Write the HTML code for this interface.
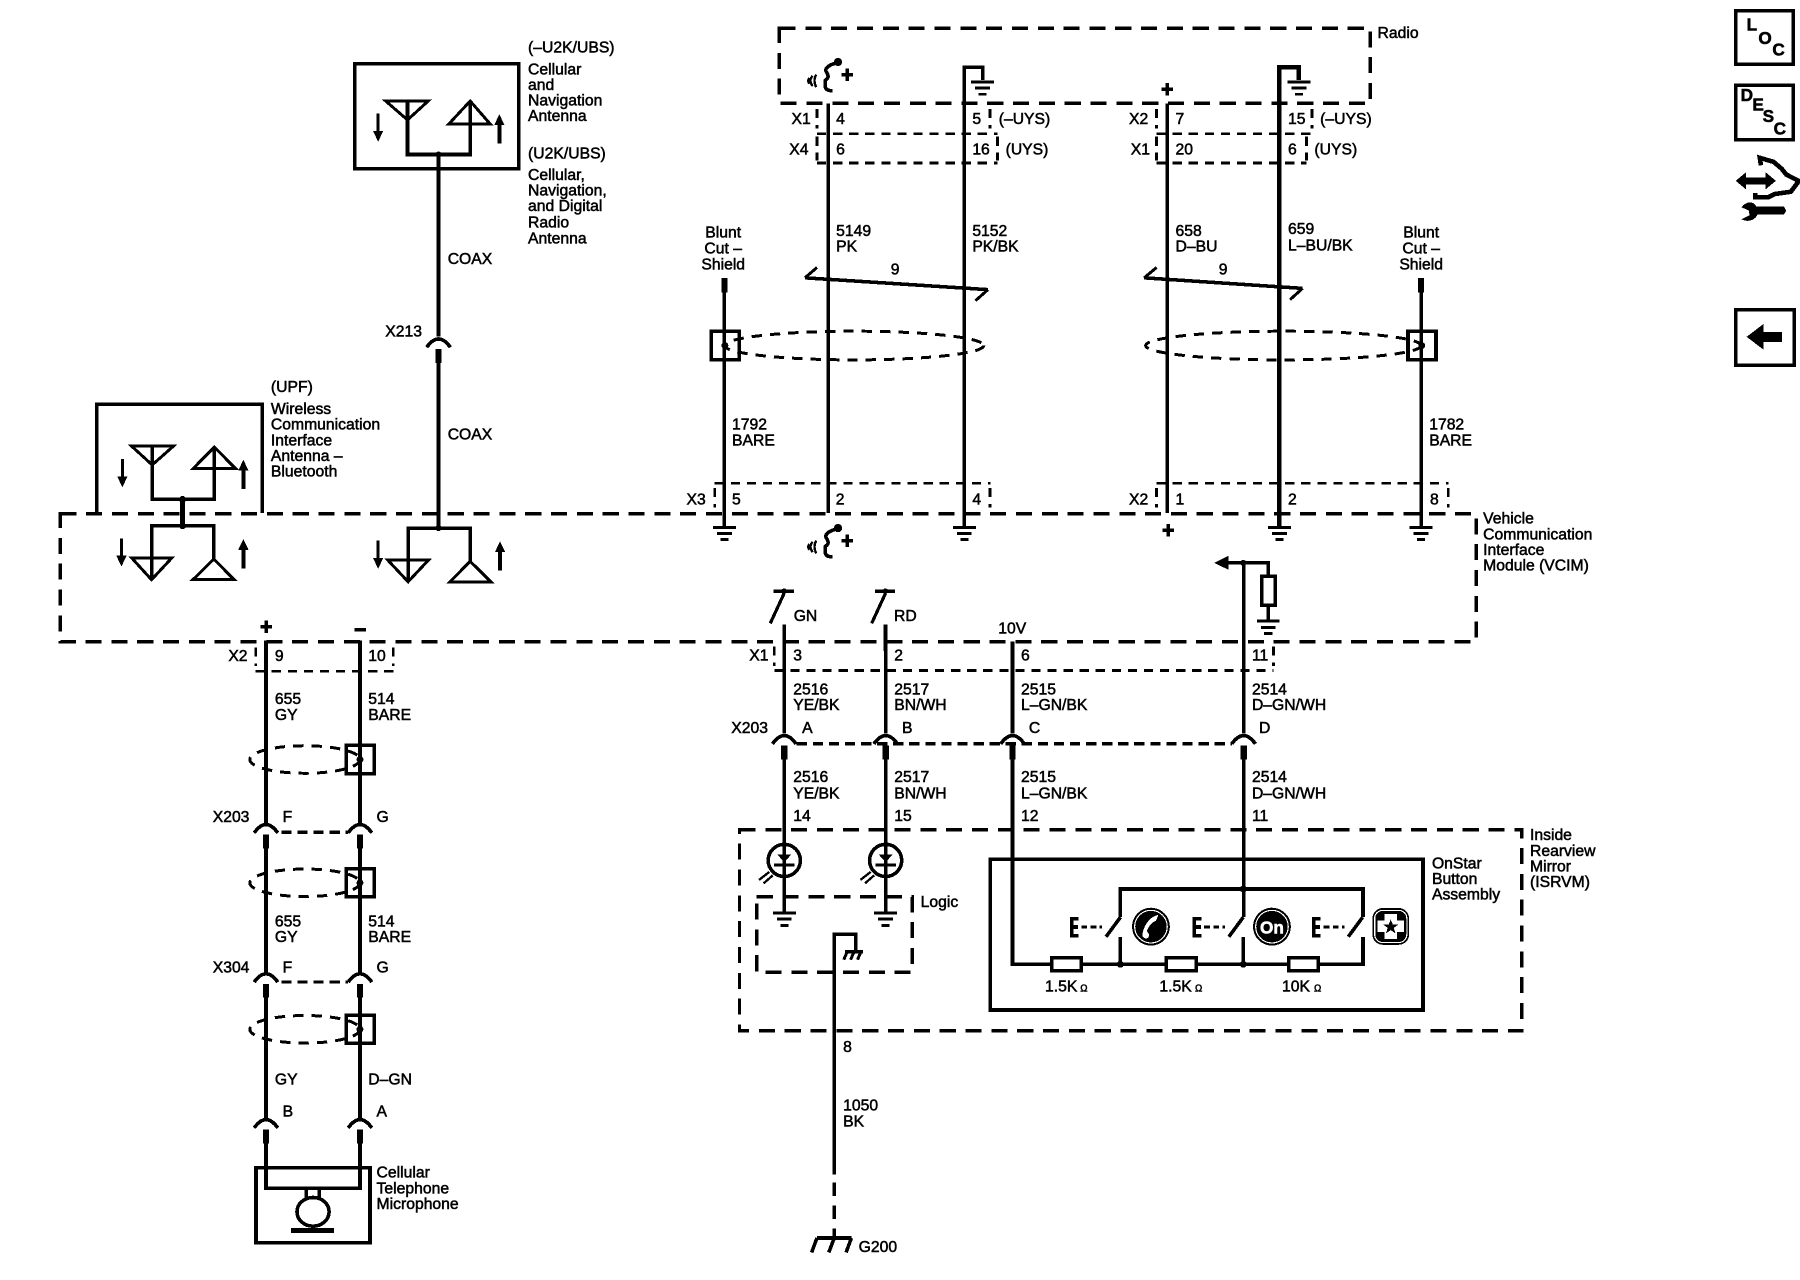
<!DOCTYPE html>
<html><head><meta charset="utf-8"><title>Wiring diagram</title>
<style>
html,body{margin:0;padding:0;background:#fff}
svg{display:block}
text{font-family:"Liberation Sans",sans-serif;font-size:13.7px;fill:#000;stroke:#000;stroke-width:.45px}
.s{fill:none;stroke:#000;stroke-width:3.1}
.t{fill:none;stroke:#000;stroke-width:2.6}
.d{fill:none;stroke:#000;stroke-width:3;stroke-dasharray:14 8.5}
.m{fill:none;stroke:#000;stroke-width:2.4;stroke-dasharray:8 6}
.e{fill:none;stroke:#000;stroke-width:2.6;stroke-dasharray:9 7}
.f{fill:#000;stroke:none}
.b{font-weight:bold;font-size:15px}
</style></head><body>
<svg xmlns="http://www.w3.org/2000/svg" width="1800" height="1280" viewBox="0 0 1568 1115" preserveAspectRatio="none" shape-rendering="crispEdges">
<defs>
<g id="gnd"><path class="f" d="M-10 0H10V2.6H-10ZM-6.5 5.4H6.5V8H-6.5ZM-3.5 10.8H3.5V13.4H-3.5Z"/></g>
<g id="con"><path class="s" d="M-10.3 9.5Q0 -5 10.3 9.5"/><rect class="f" x="-2.8" y="11" width="5.6" height="12"/></g>
<g id="ua"><path class="f" d="M0 -12.5L4.5 -3H1.8V13H-1.8V-3H-4.5Z"/></g>
<g id="da"><path class="f" d="M0 12.5L4.5 3H1.4V-12H-1.4V3H-4.5Z"/></g>
<g id="spk"><path class="s" d="M6 -10C-1 -8 -4 -5 -2 -2C0 1 0 3 -3 5L-3 11C-2 14 1 14 3 14"/><circle class="f" cx="8" cy="-11" r="3.6"/><path class="t" d="M-11 0Q-14 5 -11 11M-14 1Q-18 5 -14 10M-17 3Q-19 5 -17 8" style="stroke-width:2"/><path class="f" d="M11 -1.5H14.5V-5.5H17.5V-1.5H21V1.5H17.5V5.5H14.5V1.5H11Z"/></g>
<g id="plus"><path class="f" d="M-5 -1.5H-1.5V-5.5H1.5V-1.5H5V1.5H1.5V5.5H-1.5V1.5H-5Z"/></g>
<g id="led"><circle class="s" r="14"/><path class="f" d="M-6 -5H6L0 1.5Z"/><rect class="f" x="-9" y="2.5" width="18" height="2.6"/><path class="t" d="M-22 17L-13 10M-18 20L-10 13" style="stroke-width:2"/></g>
<g id="sw"><path class="s" d="M0 0L-12.5 17"/><rect class="f" x="-44" y="0.5" width="3" height="16"/><path class="s" d="M-44 1.5H-36.5M-44 8.5H-37M-44 16H-36.5"/><path class="t" d="M-34 8.5H-16" stroke-dasharray="5 3"/></g>
<g id="sh"><rect class="s" x="-12" y="-12.3" width="24.4" height="24.6"/><circle class="f" r="3"/></g>
<g id="rs"><rect x="-13" y="-5.6" width="26" height="11.2" fill="#fff" stroke="#000" stroke-width="3"/></g>
<g id="gsw"><path class="s" d="M0 4V27"/><path class="t" d="M-12 3L0 -23M-9 -25H8.5" style="stroke-width:2.8"/><circle class="f" cy="-25" r="2.4"/></g>
</defs>
<rect width="1568" height="1115" fill="#fff"/>

<!-- main dashed enclosures -->
<rect class="d" x="52.5" y="447.5" width="1233.5" height="111.5"/>
<rect class="d" x="679" y="24.6" width="514.8" height="65.4"/>
<rect class="d" x="644.2" y="722.8" width="681.6" height="175.2"/>
<rect class="d" x="659.2" y="781.2" width="135.4" height="65.8"/>

<!-- top antenna -->
<rect class="s" x="309" y="55.7" width="143" height="91.3"/>
<path class="t" d="M336 88H373L355 104.5Z"/>
<path class="s" d="M355 88V134.6H409.6V88"/>
<path class="t" d="M391 108H427L409.6 88Z"/>
<use href="#da" x="329.4" y="111"/><use href="#ua" x="435" y="112"/>
<path class="s" d="M382 134V293"/><use href="#con" x="382" y="293"/>
<path class="s" d="M382 315V460"/><circle class="f" cx="382" cy="134.6" r="2.6"/>
<text x="460" y="45.8">(–U2K/UBS)</text>
<text x="460" y="65">Cellular</text><text x="460" y="78.5">and</text><text x="460" y="91.7">Navigation</text><text x="460" y="105.6">Antenna</text>
<text x="460" y="138">(U2K/UBS)</text>
<text x="460" y="157">Cellular,</text><text x="460" y="170.5">Navigation,</text><text x="460" y="184">and Digital</text><text x="460" y="198">Radio</text><text x="460" y="212">Antenna</text>
<text x="390" y="230">COAX</text><text x="390" y="383">COAX</text><text x="335.6" y="293">X213</text>

<!-- bluetooth antenna -->
<path class="s" d="M84.4 447V352H228.3V447"/>
<path class="t" d="M114.7 388.7H151L132.6 405Z"/>
<path class="s" d="M132.6 389V435H186.7V389"/>
<path class="t" d="M168.4 408H205L186.7 389.4Z"/>
<use href="#da" x="106.6" y="412"/><use href="#ua" x="212" y="413"/>
<path class="s" d="M159 435V458" style="stroke-width:4"/><circle class="f" cx="159" cy="435" r="3"/><circle class="f" cx="159" cy="458" r="3"/>
<path class="s" d="M132 505V458H186.3V488"/>
<path class="t" d="M114.7 486H149.7L132 505Z"/>
<path class="t" d="M168 505H204L186.3 487Z"/>
<use href="#da" x="105.8" y="481"/><use href="#ua" x="212" y="482"/>
<text x="236" y="341.5">(UPF)</text>
<text x="236" y="360.5">Wireless</text><text x="236" y="374">Communication</text><text x="236" y="388">Interface</text><text x="236" y="401.5">Antenna –</text><text x="236" y="415">Bluetooth</text>

<!-- coax lower antenna -->
<path class="s" d="M355.5 507V460H409.6V489"/><circle class="f" cx="382" cy="460" r="2.6"/>
<path class="t" d="M337.6 487.7H373.4L355.5 506.8Z"/>
<path class="t" d="M391.7 507H427.8L409.6 489Z"/>
<use href="#da" x="329.4" y="483"/><use href="#ua" x="435.6" y="484"/>

<!-- radio wires -->
<path class="s" d="M721.4 90V447"/>
<path class="s" d="M856 69.7V58.7H840V458"/>
<path class="s" d="M1016.8 90V447"/>
<path class="s" d="M1131.5 69.7V58.7H1114.5V458" style="stroke-width:4"/>
<path class="s" d="M631 242V458"/><path class="s" d="M1238 242V458"/>
<rect class="f" x="628.4" y="242" width="5.2" height="13"/><rect class="f" x="1235.4" y="242" width="5.2" height="13"/>
<use href="#gnd" x="856" y="70"/><use href="#gnd" x="1131.5" y="70"/>
<use href="#gnd" x="631" y="458"/><use href="#gnd" x="840" y="458"/><use href="#gnd" x="1114.5" y="458"/><use href="#gnd" x="1238" y="458"/>
<use href="#spk" x="722" y="65"/><use href="#spk" x="722" y="471"/>
<use href="#plus" x="1016.8" y="77.7"/><use href="#plus" x="1017.6" y="462"/>
<text x="1200" y="33">Radio</text>

<!-- connector dashed tops -->
<path class="m" d="M711.7 95V112M862.5 95V112M711.7 119V140M869 119V140M711.7 116.6H869M711.7 142H869"/>
<path class="m" d="M1007.5 95V112M1143 95V112M1007.5 119V140M1138 119V140M1007.5 116.6H1143M1007.5 142H1138"/>
<path class="m" d="M622.6 425V442M862.5 425V442M622.6 421H863M1007.5 425V442M1261.6 425V442M1007.5 421H1261.6"/>
<text x="689.5" y="108">X1</text><text x="728.4" y="108">4</text><text x="847" y="108">5</text><text x="870" y="108">(–UYS)</text>
<text x="687.5" y="134.6">X4</text><text x="728.4" y="134.6">6</text><text x="847" y="134.6">16</text><text x="876" y="134.6">(UYS)</text>
<text x="983.5" y="108">X2</text><text x="1024" y="108">7</text><text x="1122" y="108">15</text><text x="1150" y="108">(–UYS)</text>
<text x="985" y="134.6">X1</text><text x="1024" y="134.6">20</text><text x="1122" y="134.6">6</text><text x="1145" y="134.6">(UYS)</text>
<text x="728.4" y="205.4">5149</text><text x="728.4" y="219">PK</text>
<text x="847" y="205.4">5152</text><text x="847" y="219">PK/BK</text>
<text x="1024" y="205.4">658</text><text x="1024" y="219">D–BU</text>
<text x="1122" y="204">659</text><text x="1122" y="218">L–BU/BK</text>

<!-- twists -->
<path class="s" d="M701.2 242L860.6 252.3"/><path class="t" d="M701.2 242L711.7 233M860.6 252.3L849.7 262"/>
<path class="s" d="M996.7 242L1134.7 251.2"/><path class="t" d="M996.7 242L1007.5 233M1134.7 251.2L1123.8 261"/>
<text x="776" y="239">9</text><text x="1061.7" y="239">9</text>

<!-- shields top -->
<ellipse class="e" cx="744" cy="301" rx="113" ry="12.5"/>
<ellipse class="e" cx="1118" cy="301" rx="120" ry="12.5"/>
<use href="#sh" x="631.5" y="301"/><use href="#sh" x="1238.5" y="301"/>
<g text-anchor="middle"><text x="630" y="207">Blunt</text><text x="630" y="221">Cut –</text><text x="630" y="234.7">Shield</text>
<text x="1238" y="207">Blunt</text><text x="1238" y="221">Cut –</text><text x="1238" y="234.7">Shield</text></g>
<text x="637.7" y="374">1792</text><text x="637.7" y="388">BARE</text>
<text x="1245" y="374">1782</text><text x="1245" y="388">BARE</text>
<text x="598" y="439.5">X3</text><text x="637.7" y="439.5">5</text><text x="728" y="439.5">2</text><text x="847" y="439.5">4</text>
<text x="983.5" y="439.5">X2</text><text x="1024" y="439.5">1</text><text x="1122" y="439.5">2</text><text x="1245.7" y="439.5">8</text>
<text x="1292" y="456">Vehicle</text><text x="1292" y="470">Communication</text><text x="1292" y="483.5">Interface</text><text x="1292" y="497">Module (VCIM)</text>

<!-- left microphone wiring -->
<use href="#plus" x="232" y="546"/><rect class="f" x="309" y="547" width="10" height="3"/>
<path class="m" d="M222.7 564V580M342.6 564V580M222.7 584.8H342.6"/>
<text x="198.9" y="575.7">X2</text><text x="239.5" y="575.7">9</text><text x="320.8" y="575.7">10</text>
<path class="s" d="M231.7 558V717M313.6 558V717"/>
<use href="#con" x="231.7" y="716"/><use href="#con" x="313.6" y="716"/>
<path class="s" d="M231.7 738V848M313.6 738V848"/>
<use href="#con" x="231.7" y="846"/><use href="#con" x="313.6" y="846"/>
<path class="s" d="M231.7 868V975M313.6 868V975"/>
<use href="#con" x="231.7" y="973"/><use href="#con" x="313.6" y="973"/>
<path class="s" d="M231.7 995V1035H313.6V995"/>
<path class="d" style="stroke-dasharray:9 5" d="M245 725H303M245 855.4H303"/>
<ellipse class="e" cx="265.6" cy="661.6" rx="48" ry="12"/>
<ellipse class="e" cx="265.6" cy="769" rx="48" ry="12"/>
<ellipse class="e" cx="265.6" cy="896.6" rx="48" ry="12"/>
<use href="#sh" x="313.6" y="661.6"/><use href="#sh" x="313.6" y="769"/><use href="#sh" x="313.6" y="896.6"/>
<rect class="s" x="223" y="1017.4" width="99.3" height="65.2"/>
<path class="s" d="M266.6 1035V1045M278 1035V1045"/>
<ellipse class="s" cx="272.7" cy="1055.6" rx="14" ry="12.5"/>
<rect class="f" x="253.5" y="1069.5" width="37.5" height="4.5"/>
<text x="239.5" y="613.4">655</text><text x="239.5" y="627">GY</text><text x="320.8" y="613.4">514</text><text x="320.8" y="627">BARE</text>
<text x="185.3" y="716">X203</text><text x="246.2" y="716">F</text><text x="328" y="716">G</text>
<text x="239.5" y="807">655</text><text x="239.5" y="820.5">GY</text><text x="320.8" y="807">514</text><text x="320.8" y="820.5">BARE</text>
<text x="185.3" y="847">X304</text><text x="246.2" y="847">F</text><text x="328" y="847">G</text>
<text x="239.5" y="944.5">GY</text><text x="320.8" y="944.5">D–GN</text>
<text x="246.2" y="972.7">B</text><text x="328" y="972.7">A</text>
<text x="328" y="1025.8">Cellular</text><text x="328" y="1039.7">Telephone</text><text x="328" y="1053">Microphone</text>

<!-- VCIM lower -->
<use href="#gsw" x="683" y="540"/><use href="#gsw" x="771.3" y="540"/>
<text x="691.4" y="541">GN</text><text x="778.8" y="541">RD</text><text x="869.6" y="552">10V</text>
<path class="m" d="M674.5 563V580M1109.4 563V580M674.5 584H1109.4"/>
<text x="652.7" y="575.3">X1</text><text x="691" y="575.3">3</text><text x="779" y="575.3">2</text><text x="889.4" y="575.3">6</text><text x="1090.6" y="575.3">11</text>
<path class="s" d="M683.2 544V639M771.5 544V639M882 559V639M1083.3 490V639"/>
<use href="#con" x="683.2" y="638.5"/><use href="#con" x="771.5" y="638.5"/><use href="#con" x="882" y="638.5"/><use href="#con" x="1083.3" y="638.5"/>
<path class="d" style="stroke-dasharray:9 5" d="M694 648H1073"/>
<text x="691" y="604.8">2516</text><text x="691" y="618.6">YE/BK</text>
<text x="779" y="604.8">2517</text><text x="779" y="618.6">BN/WH</text>
<text x="889.4" y="604.8">2515</text><text x="889.4" y="618.6">L–GN/BK</text>
<text x="1090.6" y="604.8">2514</text><text x="1090.6" y="618.6">D–GN/WH</text>
<text x="637" y="638.5">X203</text><text x="698.7" y="638.5">A</text><text x="785.8" y="638.5">B</text><text x="896.3" y="638.5">C</text><text x="1096.7" y="638.5">D</text>
<text x="691" y="681.3">2516</text><text x="691" y="695.5">YE/BK</text>
<text x="779" y="681.3">2517</text><text x="779" y="695.5">BN/WH</text>
<text x="889.4" y="681.3">2515</text><text x="889.4" y="695.5">L–GN/BK</text>
<text x="1090.6" y="681.3">2514</text><text x="1090.6" y="695.5">D–GN/WH</text>
<text x="691" y="715">14</text><text x="779" y="715">15</text><text x="889.4" y="715">12</text><text x="1090.6" y="715">11</text>

<!-- pullup -->
<path class="s" d="M1068 490.3H1104.8V500.5"/>
<path class="f" d="M1057.8 490.3L1070 484.3V496.3Z"/><circle class="f" cx="1083" cy="490.3" r="2.6"/>
<rect class="s" x="1099" y="502" width="12" height="25.3"/>
<path class="s" d="M1104.8 527.3V540"/><use href="#gnd" x="1104.8" y="539.8"/>

<!-- LEDs -->
<path class="s" d="M683.2 661V794M771.5 661V794"/>
<use href="#led" x="683.2" y="749.5"/><use href="#led" x="771.5" y="749.5"/>
<use href="#gnd" x="683.2" y="793.9"/><use href="#gnd" x="771.5" y="793.9"/>
<text x="802" y="790.3">Logic</text>
<path class="s" d="M726.7 1023.3V814H745.4V828.4"/>
<path class="s" d="M736 829H751.6"/>
<path class="t" d="M738 829L735 836M744 829L741 836M750 829L747 836"/>
<path class="d" style="stroke-dasharray:12 8" d="M726.7 1030V1078"/>
<path class="s" d="M711.7 1078.4H741.7"/>
<path class="s" d="M711.7 1078.4L707 1091M726.7 1078.4L722 1091M741.7 1078.4L737 1091"/>
<text x="748" y="1090.8">G200</text>
<text x="734.5" y="916.6">8</text><text x="734.5" y="967.4">1050</text><text x="734.5" y="981.3">BK</text>

<!-- OnStar -->
<rect class="s" x="862.5" y="748.3" width="377.1" height="131.5"/>
<path class="s" d="M882 648V840H1187.3V816"/>
<path class="s" d="M1083.3 661V799"/>
<path class="s" d="M976 816V840M1083 816V840"/>
<path class="s" d="M976 799V774.4H1187.3V799"/>
<circle class="f" cx="1083" cy="774.4" r="3"/><circle class="f" cx="976" cy="840" r="3"/><circle class="f" cx="1083" cy="840" r="3"/>
<use href="#rs" x="929" y="840"/><use href="#rs" x="1029" y="840"/><use href="#rs" x="1135.5" y="840"/>
<use href="#sw" x="976" y="799"/><use href="#sw" x="1083" y="799"/><use href="#sw" x="1187" y="799"/>
<circle class="f" cx="1002.6" cy="807.2" r="16.5"/><circle cx="1002.6" cy="807.2" r="14.2" fill="none" stroke="#fff"/>
<path fill="#fff" d="M1009 797C1002 798 996 806 995 815C997 819 1001 818 1001 814L999 811C1001 806 1004 803 1007 802Z"/>
<circle class="f" cx="1108" cy="807.2" r="16.5"/><circle cx="1108" cy="807.2" r="14.2" fill="none" stroke="#fff"/>
<text x="1108" y="813" text-anchor="middle" style="fill:#fff;stroke:#fff;font-size:15px;font-weight:bold">On</text>
<rect class="f" x="1195.5" y="791" width="32" height="32" rx="9"/><rect x="1197.5" y="793" width="28" height="28" rx="7" fill="none" stroke="#fff"/>
<path fill="#fff" d="M1206 796H1217V802H1223V812H1217V818H1206V812H1200V802H1206Z"/>
<path class="f" d="M1211.5 801L1213.3 805.4H1218L1214.2 808.3L1215.6 813L1211.5 810.2L1207.4 813L1208.8 808.3L1205 805.4H1209.7Z"/>
<text x="910.3" y="863.8">1.5K</text><text x="941" y="863.8" style="font-size:8.5px">Ω</text>
<text x="1010" y="863.8">1.5K</text><text x="1041" y="863.8" style="font-size:8.5px">Ω</text>
<text x="1116.8" y="863.8">10K</text><text x="1144.6" y="863.8" style="font-size:8.5px">Ω</text>
<text x="1247.4" y="756.4">OnStar</text><text x="1247.4" y="770">Button</text><text x="1247.4" y="783.4">Assembly</text>
<text x="1332.8" y="731.7">Inside</text><text x="1332.8" y="745.5">Rearview</text><text x="1332.8" y="759">Mirror</text><text x="1332.8" y="772.6">(ISRVM)</text>

<!-- side icons -->
<rect class="s" x="1512" y="9.2" width="50" height="46.8"/>
<text class="b" x="1521.5" y="26.4">L</text><text class="b" x="1531.8" y="38.5">O</text><text class="b" x="1544" y="48.4">C</text>
<rect class="s" x="1512" y="74.4" width="50" height="47.3"/>
<text class="b" x="1516.3" y="88">D</text><text class="b" x="1526.5" y="96.4">E</text><text class="b" x="1535.5" y="106.3">S</text><text class="b" x="1545" y="117.3">C</text>
<path class="f" d="M1512 157.5L1521 150V154.5H1538V150L1547 157.5L1538 165V160.5H1521V165Z"/>
<path class="s" d="M1534 144L1533 137.5L1545 141L1552 147L1556 152L1567 157.7L1560 167L1546 169L1540 172L1529 172V168" style="stroke-width:4"/>
<path class="f" d="M1530 180H1554L1556 183.5L1554 187H1531C1529 192 1522 194 1517 191L1524 187.5L1523.5 183.5L1517 180.5C1521 175 1528 175 1530 180Z"/>
<rect class="s" x="1512" y="270" width="51" height="48"/>
<path class="f" d="M1521.5 293.4L1536 282.4V289H1552.5V297.8H1536V304.4Z"/>
</svg>
</body></html>
